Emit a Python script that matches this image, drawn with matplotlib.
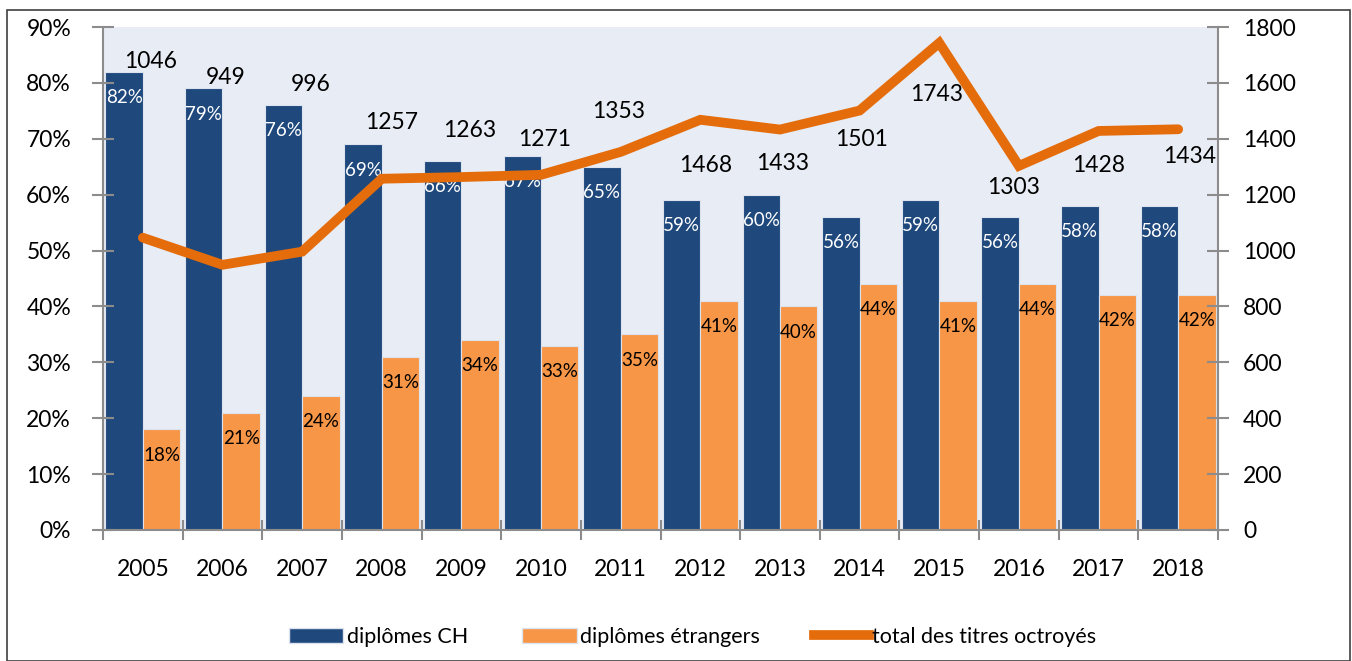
import matplotlib.pyplot as plt
from matplotlib.patches import Rectangle
from matplotlib.lines import Line2D
from matplotlib.patches import Patch
import numpy as np

plt.rcParams['font.family'] = ['Lato', 'DejaVu Sans']

# data
years = ['2005', '2006', '2007', '2008', '2009', '2010', '2011',
         '2012', '2013', '2014', '2015', '2016', '2017', '2018']
pct_ch = [82, 79, 76, 69, 66, 67, 65, 59, 60, 56, 59, 56, 58, 58]
pct_etr = [18, 21, 24, 31, 34, 33, 35, 41, 40, 44, 41, 44, 42, 42]
total = [1046, 949, 996, 1257, 1263, 1271, 1353, 1468, 1433, 1501, 1743, 1303, 1428, 1434]

# where the total labels sit (right-axis units / category offsets)
label_y = [1675, 1621, 1596, 1460, 1431, 1396, 1496, 1306, 1310, 1396, 1560, 1227, 1303, 1335]
label_dx = [0.10, 0.04, 0.11, 0.12, 0.11, 0.05, -0.03, 0.07, 0.03, 0.02, -0.03, -0.07, 0, 0.14]

blue = '#1F497D'
orange = '#F79646'
line_col = '#E46C0A'
grey = '#8C8C8C'

fig = plt.figure(figsize=(13.52, 6.61), dpi=100)
fig.patches.append(Rectangle((7 / 1352, 0), 1343 / 1352, 651 / 661, transform=fig.transFigure,
                             fill=False, edgecolor='#404040', linewidth=1.2))

ax = fig.add_axes([103 / 1352, 131 / 661, 1115 / 1352, 503 / 661])
ax.set_facecolor('#E8ECF4')
x = np.arange(len(years))
w = 0.47

ax.bar(x - w, pct_ch, width=w, align='edge', color=blue, edgecolor='#DCE3EE', linewidth=0.8)
ax.bar(x, pct_etr, width=w, align='edge', color=orange, edgecolor='#DCE3EE', linewidth=0.8)

for i in range(len(years)):
    ax.text(x[i] - w / 2, pct_ch[i] - 4.6, f'{pct_ch[i]}%', ha='center', va='center',
            color='white', fontsize=13.5)
    ax.text(x[i] + w / 2, pct_etr[i] - 4.6, f'{pct_etr[i]}%', ha='center', va='center',
            color='black', fontsize=13.5)

ax.set_ylim(0, 90)
ax.set_xlim(-0.5, len(years) - 0.5)
ax.set_yticks(range(0, 91, 10))
ax.set_yticklabels([f'{v}%' for v in range(0, 91, 10)], fontsize=16.5)
ax.set_xticks(x)
ax.set_xticklabels(years, fontsize=16.5)
ax.set_xticks(np.arange(-0.5, len(years), 1), minor=True)
ax.tick_params(axis='x', which='major', length=0, pad=21)
ax.tick_params(axis='x', which='minor', length=15, direction='inout', color=grey, width=1.5)
ax.tick_params(axis='y', length=16, direction='inout', color=grey, width=1.5, pad=15)
for s in ['top', 'right']:
    ax.spines[s].set_visible(False)
for s in ['left', 'bottom']:
    ax.spines[s].set_color(grey)
    ax.spines[s].set_linewidth(1.5)

ax2 = ax.twinx()
ax2.plot(x, total, color=line_col, linewidth=7, solid_capstyle='round', solid_joinstyle='miter')
for i in range(len(years)):
    ax2.text(x[i] + label_dx[i], label_y[i], str(total[i]), ha='center', va='center', fontsize=16.5)
ax2.set_ylim(0, 1800)
ax2.set_yticks(range(0, 1801, 200))
ax2.set_yticklabels([str(v) for v in range(0, 1801, 200)], fontsize=16.5)
ax2.tick_params(axis='y', length=16, direction='inout', color=grey, width=1.5, pad=10)
for s in ['top', 'left', 'bottom']:
    ax2.spines[s].set_visible(False)
ax2.spines['right'].set_color(grey)
ax2.spines['right'].set_linewidth(1.5)

handles = [Patch(facecolor=blue, edgecolor='#DCE3EE'),
           Patch(facecolor=orange, edgecolor='#DCE3EE'),
           Line2D([0], [0], color=line_col, linewidth=7)]
fig.legend(handles, ['diplômes CH', 'diplômes étrangers', 'total des titres octroyés'],
           loc='center', bbox_to_anchor=(0.512, 24 / 661), ncol=3, frameon=False,
           fontsize=15.5, handlelength=2.55, handleheight=0.75, handletextpad=0.15,
           columnspacing=2.5)

fig.savefig('out.png', dpi=100)
